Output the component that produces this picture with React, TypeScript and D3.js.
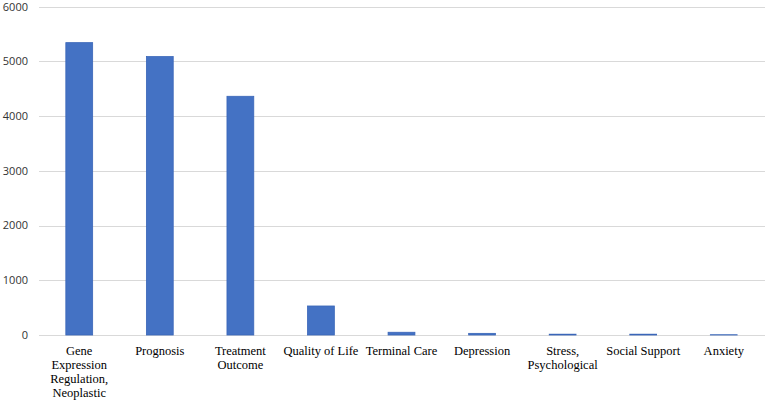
import React from 'react';
import * as d3 from 'd3';

const categories = [
  'Gene Expression Regulation, Neoplastic',
  'Prognosis',
  'Treatment Outcome',
  'Quality of Life',
  'Terminal Care',
  'Depression',
  'Stress, Psychological',
  'Social Support',
  'Anxiety',
];
// label lines as they wrap in the picture
const labelLines = [
  ['Gene', 'Expression', 'Regulation,', 'Neoplastic'],
  ['Prognosis'],
  ['Treatment', 'Outcome'],
  ['Quality of Life'],
  ['Terminal Care'],
  ['Depression'],
  ['Stress,', 'Psychological'],
  ['Social Support'],
  ['Anxiety'],
];
const counts = [5340, 5085, 4360, 530, 50, 30, 15, 15, 5];
const yTicks = [0, 1000, 2000, 3000, 4000, 5000, 6000];

const W = 765;
const H = 403;
const margin = { top: 6.5, right: 1, bottom: 68, left: 39 };

export default function App() {
  const x = d3
    .scaleBand<string>()
    .domain(categories)
    .range([margin.left, W - margin.right])
    .paddingInner(0.667)
    .paddingOuter(0.333);

  const y = d3
    .scaleLinear()
    .domain([0, 6000])
    .range([H - margin.bottom, margin.top]);

  return (
    <svg
      width={W}
      height={H}
      style={{ position: 'absolute', left: 0, top: 0, background: '#fff' }}
    >
      {/* gridlines */}
      {yTicks.map(t => (
        <line
          key={t}
          x1={margin.left}
          x2={W}
          y1={Math.round(y(t)) + 0.5}
          y2={Math.round(y(t)) + 0.5}
          stroke="#d9d9d9"
          strokeWidth={1}
        />
      ))}
      {/* y tick labels */}
      {yTicks.map(t => (
        <text
          key={'l' + t}
          x={28}
          y={Math.max(y(t), 7)}
          dy="0.35em"
          textAnchor="end"
          style={{ fontFamily: 'Open Sans, sans-serif', fontSize: 11 }}
          fill="#333"
        >
          {t}
        </text>
      ))}
      {/* bars */}
      {categories.map((c, i) => (
        <rect
          key={c}
          x={x(c)!}
          y={y(counts[i])}
          width={x.bandwidth()}
          height={y(0) - y(counts[i])}
          fill="#4472c4"
          stroke="#3a66b8"
          strokeWidth={0.8}
        />
      ))}
      {/* category labels */}
      {categories.map((c, i) => (
        <text
          key={'c' + c}
          x={x(c)! + x.bandwidth() / 2}
          y={H - margin.bottom + 16}
          textAnchor="middle"
          style={{ fontFamily: 'Liberation Serif, serif', fontSize: 12.5 }}
          fill="#000"
        >
          {labelLines[i].map((line, j) => (
            <tspan key={j} x={x(c)! + x.bandwidth() / 2} dy={j === 0 ? '0.35em' : 14}>
              {line}
            </tspan>
          ))}
        </text>
      ))}
    </svg>
  );
}
